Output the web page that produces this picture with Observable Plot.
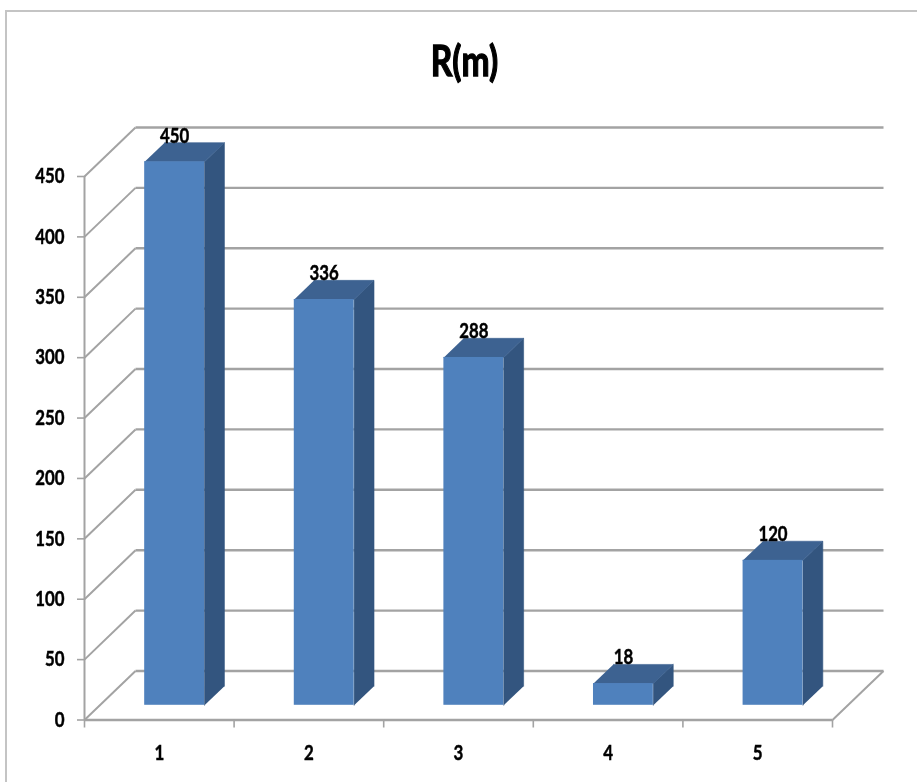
<!DOCTYPE html>
<html>
<head>
<meta charset="utf-8">
<script src="https://cdn.jsdelivr.net/npm/d3@7"></script>
<script src="https://cdn.jsdelivr.net/npm/@observablehq/plot@0.6"></script>
<style>
  html, body { margin: 0; padding: 0; background: #fff; }
  #frame { position: absolute; left: 5px; top: 10px; right: 0; bottom: 0;
           border-left: 2px solid #c4c4c4; border-top: 2px solid #c4c4c4; }
  #chart { position: absolute; left: 0; top: 0; }
  #chart svg { display: block; filter: blur(0.5px); }
  #chart text { stroke: #000; stroke-width: 0.5px; }
</style>
</head>
<body>
<div id="frame"></div>
<div id="chart"></div>
<script>
const titleText = "R(m)";
const categories = [1, 2, 3, 4, 5];
const values = [450, 336, 288, 18, 120];
const yTicks = [0, 50, 100, 150, 200, 250, 300, 350, 400, 450];
const xBoundaries = [0, 1, 2, 3, 4, 5];

// Oblique 3-D projection, expressed in scale units
const depthX = 0.341, depthY = 40.6;     // full floor depth
const barNear = 0.3, barFar = 0.69;      // bar's extent along the depth
const barHalf = 0.2;                     // half of a bar's width

const font = "Lato, sans-serif";
const gridColor = "#a3a3a3";

const at = (x, y, d) => ({x: x + d * depthX, y: y + d * depthY});

const bars = categories.map((c, i) => ({
  c, v: values[i],
  l: c - 0.5 - barHalf, r: c - 0.5 + barHalf
}));

const fronts = bars.map(b => ({
  x1: at(b.l, 0, barNear).x, x2: at(b.r, 0, barNear).x,
  y1: at(b.l, 0, barNear).y, y2: at(b.l, b.v, barNear).y
}));

const poly = (id, pts) => pts.map(p => ({id, ...at(p[0], p[1], p[2])}));
const tops = bars.flatMap(b => poly("t" + b.c, [
  [b.l, b.v, barNear], [b.r, b.v, barNear], [b.r, b.v, barFar], [b.l, b.v, barFar]
]));
const sides = bars.flatMap(b => poly("s" + b.c, [
  [b.r, 0, barNear], [b.r, b.v, barNear], [b.r, b.v, barFar], [b.r, 0, barFar]
]));

const backLines = yTicks.map(v => ({x1: depthX, x2: 5 + depthX, y1: v + depthY, y2: v + depthY}));
const wallLines = yTicks.map(v => ({x1: 0, x2: depthX, y1: v, y2: v + depthY}));
const floorEdge = [{x1: 5, x2: 5 + depthX, y1: 0, y2: depthY}];

const linkOpts = {x1: "x1", y1: "y1", x2: "x2", y2: "y2", stroke: gridColor};

const chart = Plot.plot({
  width: 917,
  height: 782,
  marginLeft: 84,
  marginRight: 85,
  marginTop: 176,
  marginBottom: 62.5,
  style: {background: "transparent", fontFamily: font},
  x: {type: "linear", domain: [0, 5]},
  y: {type: "linear", domain: [0, 450]},
  marks: [
    Plot.link(backLines, {...linkOpts, strokeWidth: 2.4}),
    Plot.link(wallLines, {...linkOpts, strokeWidth: 2}),
    Plot.link(floorEdge, {...linkOpts, strokeWidth: 2}),
    Plot.ruleX([0], {y1: 0, y2: 450, stroke: gridColor, strokeWidth: 2}),
    Plot.ruleY([0], {x1: 0, x2: 5, stroke: gridColor, strokeWidth: 2.4}),
    Plot.axisY({
      ticks: yTicks, tickSize: 7, tickPadding: 13, label: null,
      stroke: gridColor, strokeWidth: 1.6, fill: "#000",
      fontSize: 21, fontWeight: "bold"
    }),
    Plot.axisX({
      ticks: xBoundaries, tickSize: 8, tickFormat: () => "", label: null,
      stroke: gridColor, strokeWidth: 1.6
    }),
    Plot.axisX({
      ticks: categories.map(c => c - 0.5), tickSize: 0, tickPadding: 25,
      tickFormat: d => d + 0.5, label: null, fill: "#000",
      fontSize: 21, fontWeight: "bold"
    }),
    Plot.line(sides, {x: "x", y: "y", z: "id", fill: "#33557f", stroke: "#33557f", strokeWidth: 0.6}),
    Plot.line(tops, {x: "x", y: "y", z: "id", fill: "#3d6291", stroke: "#3d6291", strokeWidth: 0.6}),
    Plot.rect(fronts, {x1: "x1", x2: "x2", y1: "y1", y2: "y2", fill: "#4f81bd"}),
    Plot.text(bars, {
      x: b => at(b.c - 0.5, b.v, barNear).x,
      y: b => at(b.c - 0.5, b.v, barNear).y,
      text: "v", dy: -26, fill: "#000", fontSize: 21, fontWeight: "bold"
    }),
    Plot.text([titleText], {
      x: [2.54], y: [544], text: d => d, fill: "#000",
      fontSize: 42, fontWeight: "bold"
    })
  ]
});
document.getElementById("chart").appendChild(chart);

// The reference's lettering is condensed and heavy: narrow the installed font horizontally
chart.querySelectorAll("text").forEach(t => {
  const w = t.getComputedTextLength();
  if (w > 0) {
    t.setAttribute("textLength", (w * 0.8).toFixed(1));
    t.setAttribute("lengthAdjust", "spacingAndGlyphs");
    if (t.textContent === titleText) t.style.strokeWidth = "1.3px";
  }
});
</script>
</body>
</html>
